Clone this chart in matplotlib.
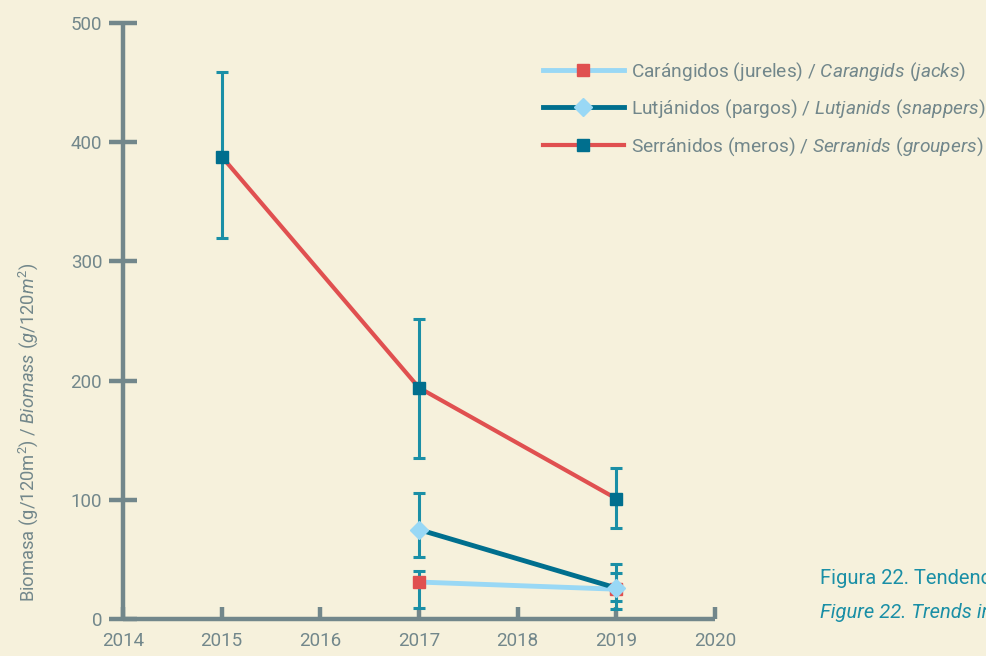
import numpy as np
import matplotlib.pyplot as plt

plt.rcParams['font.family'] = ['Roboto', 'DejaVu Sans']
plt.rcParams['mathtext.fontset'] = 'custom'
plt.rcParams['mathtext.it'] = 'Roboto:italic'
plt.rcParams['mathtext.rm'] = 'Roboto'

# data
years_serr = [2015, 2017, 2019]
serr = [388, 194, 101]
serr_hi = [459, 252, 127]
serr_lo = [320, 135, 76]

years_lut = [2017, 2019]
lut = [75, 26]
lut_hi = [106, 46]
lut_lo = [52, 8.5]

years_car = [2017, 2019]
car = [31, 25]
car_hi = [40.5, 39]
car_lo = [9, 15.5]

labels = [r'Carángidos (jureles) / $\mathit{Carangids\ (jacks)}$',
          r'Lutjánidos (pargos) / $\mathit{Lutjanids\ (snappers)}$',
          r'Serránidos (meros) / $\mathit{Serranids\ (groupers)}$']

BG = '#f6f1dc'
GREY = '#72878b'
TEAL = '#1a8fa6'
DARK = '#006f8e'
RED = '#e05050'
LIGHT = '#99d8f5'

fig = plt.figure(figsize=(9.86, 6.56), dpi=100, facecolor=BG)
ax = fig.add_axes([123 / 986, 37 / 656, 592 / 986, 596 / 656])
ax.set_facecolor(BG)


def errs(v, hi, lo):
    v = np.array(v)
    return [v - np.array(lo), np.array(hi) - v]


for x, v, hi, lo in [(years_serr, serr, serr_hi, serr_lo),
                     (years_lut, lut, lut_hi, lut_lo),
                     (years_car, car, car_hi, car_lo)]:
    ax.errorbar(x, v, yerr=errs(v, hi, lo), fmt='none', ecolor=TEAL,
                elinewidth=2.2, capsize=4.5, capthick=2.2, zorder=2)

l1, = ax.plot(years_car, car, color=LIGHT, lw=3.5, marker='s', ms=9,
              mfc=RED, mec=RED, zorder=3)
l2, = ax.plot(years_lut, lut, color=DARK, lw=3.5, marker='D', ms=9,
              mfc=LIGHT, mec=LIGHT, zorder=4)
l3, = ax.plot(years_serr, serr, color=RED, lw=3, marker='s', ms=9,
              mfc=DARK, mec=DARK, zorder=3)

ax.set_xlim(2014, 2020)
ax.set_ylim(0, 500)
ax.set_xticks(range(2014, 2021))
ax.set_yticks(range(0, 501, 100))
for s in ['top', 'right']:
    ax.spines[s].set_visible(False)
for s in ['left', 'bottom']:
    ax.spines[s].set_color(GREY)
    ax.spines[s].set_linewidth(3.2)
    ax.spines[s].set_capstyle('butt')
ax.tick_params(axis='y', direction='inout', length=20, width=3.2, color=GREY,
               labelcolor=GREY, labelsize=13.5, pad=5)
ax.tick_params(axis='x', direction='in', length=9, width=3.2, color=GREY,
               labelcolor=GREY, labelsize=13.5, pad=9)
for t in ax.get_xticklabels() + ax.get_yticklabels():
    t.set_clip_on(False)

fig.text(28 / 986, 1 - 432 / 656,
         r'Biomasa (g/120m$^2$) / $\mathit{Biomass\ (g/120m^2)}$',
         rotation=90, va='center', ha='center', color=GREY, fontsize=13.2)

ax.legend([l1, l2, l3], labels, loc='upper left',
          bbox_to_anchor=(543 / 986, 1 - 60 / 656), bbox_transform=fig.transFigure,
          frameon=False, fontsize=13.8, labelcolor=GREY, handlelength=4.2,
          handletextpad=0.4, labelspacing=0.8, borderpad=0, borderaxespad=0)

fig.text(820 / 986, 1 - 578 / 656, 'Figura 22. Tendencias',
         color=TEAL, fontsize=14.5, va='center')
fig.text(820 / 986, 1 - 612 / 656, 'Figure 22. Trends in',
         color=TEAL, fontsize=14.5, va='center', style='italic')

fig.savefig('out.png', dpi=100, facecolor=BG)
